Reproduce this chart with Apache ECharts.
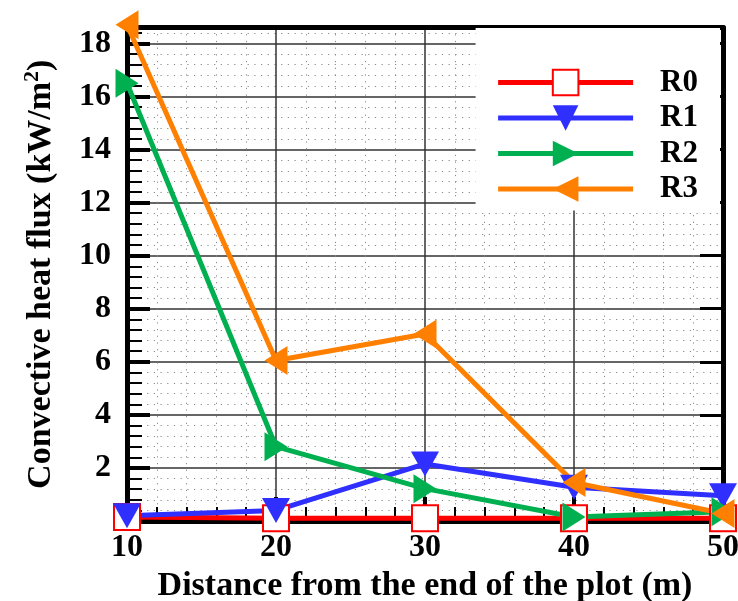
<!DOCTYPE html>
<html>
<head>
<meta charset="utf-8">
<script src="https://cdn.jsdelivr.net/npm/echarts@6/dist/echarts.min.js"></script>
<style>
html,body{margin:0;padding:0;background:#fff;}
#chart{width:738px;height:601px;}
</style>
</head>
<body>
<div id="chart"></div>
<script>
var distances = [10, 20, 30, 40, 50];
var seriesNames = ['R0', 'R1', 'R2', 'R3'];
var r0 = [0.15, 0.1, 0.1, 0.1, 0.1];
var r1 = [0.2, 0.4, 2.15, 1.27, 0.95];
var r2 = [16.5, 2.8, 1.22, 0.15, 0.35];
var r3 = [18.7, 6.05, 7.05, 1.45, 0.28];
var xTitle = 'Distance from the end of the plot (m)';
var yTitle = 'Convective heat flux (kW/m';

function pairs(vals) { return distances.map(function (d, i) { return [d, vals[i]]; }); }

var FONT = '"Liberation Serif", "Times New Roman", Times, serif';
var chart = echarts.init(document.getElementById('chart'), null, {renderer: 'canvas'});

var minorGrid = {show: true, lineStyle: {color: '#8a8a8a', width: 1, type: [1.2, 5.5]}};
var majorGrid = {show: true, lineStyle: {color: '#333', width: 1.5}};

chart.setOption({
  backgroundColor: '#fff',
  animation: false,
  grid: {left: 127, right: 15, top: 27.5, bottom: 80, containLabel: false, outerBoundsMode: 'none'},
  legend: {
    orient: 'vertical', right: 18, top: 28,
    data: seriesNames,
    itemWidth: 135, itemHeight: 32, itemGap: 4.5,
    backgroundColor: '#fff',
    padding: [39, 22, 6, 20],
    lineStyle: {width: 5},
    itemStyle: {borderWidth: 4},
    textStyle: {fontFamily: FONT, fontWeight: 'bold', fontSize: 31, color: '#000', padding: [0, 0, 0, 22]}
  },
  xAxis: [{
    type: 'value', min: 10, max: 50, interval: 10, position: 'bottom',
    name: xTitle, nameLocation: 'middle', nameGap: 43,
    nameTextStyle: {fontFamily: FONT, fontWeight: 'bold', fontSize: 34, color: '#000'},
    axisLine: {show: true, onZero: false, lineStyle: {color: '#000', width: 5}},
    axisTick: {show: true, inside: true, length: 24, lineStyle: {color: '#000', width: 4}},
    minorTick: {show: true, splitNumber: 5, length: 14, lineStyle: {color: '#000', width: 2}},
    axisLabel: {fontFamily: FONT, fontWeight: 'bold', fontSize: 32, color: '#000', margin: 11},
    splitLine: majorGrid,
    minorSplitLine: minorGrid
  }, {
    type: 'value', min: 10, max: 50, interval: 10, position: 'top',
    axisLine: {show: true, onZero: false, lineStyle: {color: '#000', width: 5}},
    axisTick: {show: false}, axisLabel: {show: false}, splitLine: {show: false}
  }],
  yAxis: [{
    type: 'value', min: 0, max: 18.6, interval: 2, position: 'left',
    name: '{a|' + yTitle + '}{s|2}{a|)}', nameLocation: 'middle', nameGap: 66,
    nameTextStyle: {
      fontFamily: FONT, fontWeight: 'bold', fontSize: 34, color: '#000',
      rich: {
        a: {fontFamily: FONT, fontWeight: 'bold', fontSize: 34, color: '#000', lineHeight: 40},
        s: {fontFamily: FONT, fontWeight: 'bold', fontSize: 22, color: '#000', verticalAlign: 'top', lineHeight: 40, padding: [0, 0, 14, 0]}
      }
    },
    axisLine: {show: true, onZero: false, lineStyle: {color: '#000', width: 5}},
    axisTick: {show: true, inside: true, length: 23, lineStyle: {color: '#000', width: 4}},
    minorTick: {show: true, splitNumber: 5, length: 15, lineStyle: {color: '#000', width: 2}},
    axisLabel: {
      fontFamily: FONT, fontWeight: 'bold', fontSize: 32, color: '#000', margin: 16,
      showMaxLabel: false,
      formatter: function (v) { return (v === 0 || v % 2 !== 0) ? '' : String(v); }
    },
    splitLine: majorGrid,
    minorSplitLine: minorGrid
  }, {
    type: 'value', min: 0, max: 18.6, interval: 2, position: 'right',
    axisLine: {show: true, onZero: false, lineStyle: {color: '#000', width: 5}},
    axisTick: {show: true, inside: true, length: 23, lineStyle: {color: '#000', width: 3}},
    axisLabel: {show: false}, splitLine: {show: false}
  }],
  series: [{
    name: 'R0', type: 'line', data: pairs(r0), clip: false,
    symbol: 'emptyRect', symbolSize: 26,
    itemStyle: {color: '#ff0000', borderWidth: 4},
    lineStyle: {color: '#ff0000', width: 5}
  }, {
    name: 'R1', type: 'line', data: pairs(r1), clip: false,
    symbol: 'triangle', symbolSize: [28, 25], symbolRotate: 180,
    itemStyle: {color: '#2f2fff'},
    lineStyle: {color: '#2f2fff', width: 5}
  }, {
    name: 'R2', type: 'line', data: pairs(r2), clip: false,
    symbol: 'triangle', symbolSize: [29, 23], symbolRotate: -90,
    itemStyle: {color: '#00b050'},
    lineStyle: {color: '#00b050', width: 5}
  }, {
    name: 'R3', type: 'line', data: pairs(r3), clip: false,
    symbol: 'triangle', symbolSize: [29, 23], symbolRotate: 90,
    itemStyle: {color: '#ff8000'},
    lineStyle: {color: '#ff8000', width: 5}
  }]
});
</script>
</body>
</html>
